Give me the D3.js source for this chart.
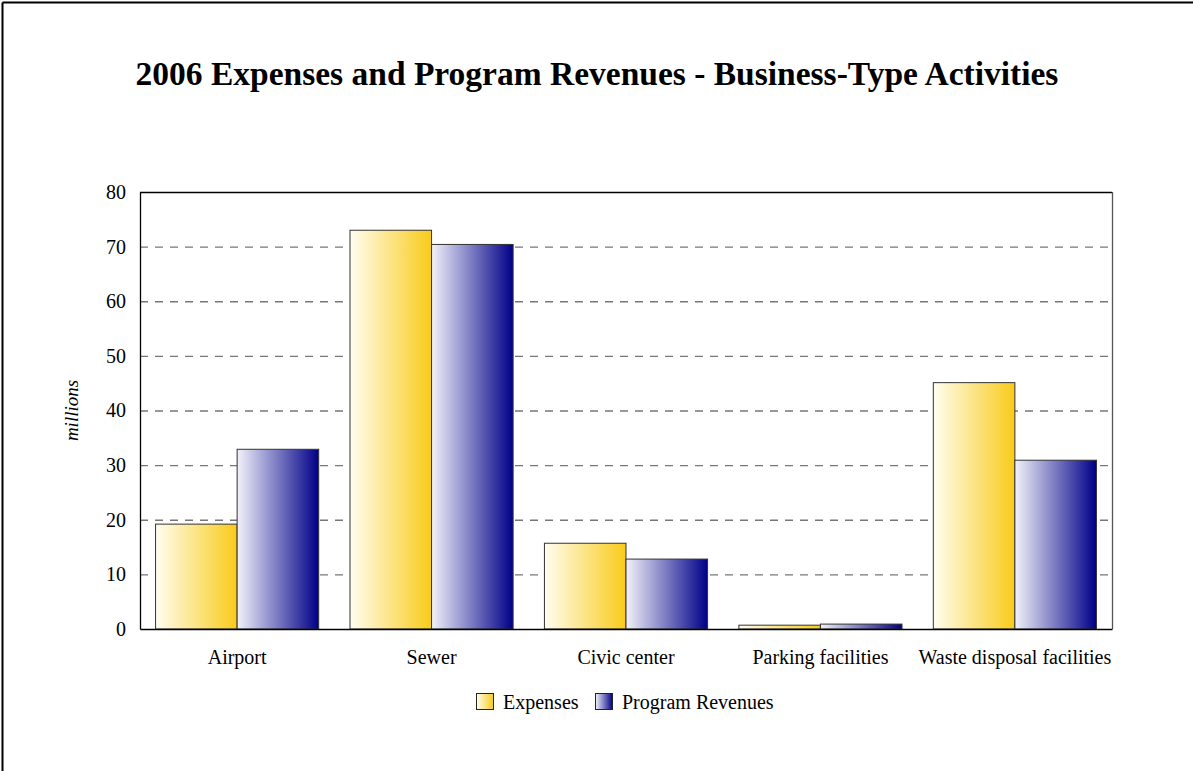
<!DOCTYPE html>
<html>
<head>
<meta charset="utf-8">
<script src="https://cdn.jsdelivr.net/npm/d3@7"></script>
<style>
  html, body { margin: 0; background: #fff; overflow: hidden; }
  svg { display: block; }
  text { font-family: "Liberation Serif", "Times New Roman", serif; fill: #000; }
</style>
</head>
<body>
<script>
// chart data
var categories = ["Airport", "Sewer", "Civic center", "Parking facilities", "Waste disposal facilities"];
var seriesNames = ["Expenses", "Program Revenues"];
var expenses = [19.2, 73.0, 15.7, 0.7, 45.1];
var revenues = [32.9, 70.4, 12.8, 0.9, 30.9];
var yTicks = [0, 10, 20, 30, 40, 50, 60, 70, 80];

var width = 1193, height = 771;
var margin = {top: 192, right: 81, bottom: 142, left: 140};
var w = width - margin.left - margin.right,
    h = height - margin.top - margin.bottom;

var svg = d3.select("body").append("svg").attr("width", width).attr("height", height);

// page frame: only the left and top edges show in the picture
svg.append("line").attr("x1", 2.5).attr("x2", width).attr("y1", 2.5).attr("y2", 2.5)
    .attr("stroke", "#000").attr("stroke-width", 2);
svg.append("line").attr("x1", 2.5).attr("x2", 2.5).attr("y1", 2.5).attr("y2", height)
    .attr("stroke", "#000").attr("stroke-width", 2);

var defs = svg.append("defs");
var grads = [
  {id: "gExp", from: "#fffdf0", to: "#f9cb1a"},
  {id: "gRev", from: "#f2f2fa", to: "#000088"}
];
grads.forEach(function(gd) {
  var lg = defs.append("linearGradient").attr("id", gd.id)
      .attr("x1", "0%").attr("x2", "100%").attr("y1", "0%").attr("y2", "0%");
  lg.append("stop").attr("offset", "0%").attr("stop-color", gd.from);
  lg.append("stop").attr("offset", "100%").attr("stop-color", gd.to);
});

svg.append("text")
    .attr("x", 597).attr("y", 85)
    .attr("text-anchor", "middle")
    .attr("font-size", 33.5).attr("font-weight", "bold")
    .text("2006 Expenses and Program Revenues - Business-Type Activities");

var g = svg.append("g").attr("transform", "translate(" + margin.left + "," + margin.top + ")");

var x0 = d3.scaleBand().domain(categories).range([0, w]).paddingInner(0.161).paddingOuter(0.08);
var x1 = d3.scaleBand().domain(seriesNames).range([0, x0.bandwidth()]);
var y = d3.scaleLinear().domain([0, 80]).range([h, 0]);

// dashed gridlines
g.selectAll(".grid").data(yTicks.filter(function(d) { return d > 0 && d < 80; }))
  .enter().append("line")
    .attr("x1", 0).attr("x2", w)
    .attr("y1", function(d) { return y(d) + 0.5; })
    .attr("y2", function(d) { return y(d) + 0.5; })
    .attr("stroke", "#777").attr("stroke-width", 1.3)
    .attr("stroke-dasharray", "8,7");

// top and right frame
g.append("line").attr("x1", 0).attr("x2", w).attr("y1", 0.5).attr("y2", 0.5)
    .attr("stroke", "#000").attr("stroke-width", 1.3);
g.append("line").attr("x1", w + 0.5).attr("x2", w + 0.5).attr("y1", 0).attr("y2", h)
    .attr("stroke", "#555").attr("stroke-width", 1.3);

var rows = categories.map(function(c, i) {
  return {cat: c, vals: [{s: seriesNames[0], v: expenses[i], fill: "url(#gExp)"},
                          {s: seriesNames[1], v: revenues[i], fill: "url(#gRev)"}]};
});

var groups = g.selectAll(".grp").data(rows).enter().append("g")
    .attr("transform", function(d) { return "translate(" + x0(d.cat) + ",0)"; });

groups.selectAll("rect").data(function(d) { return d.vals; }).enter().append("rect")
    .attr("x", function(d) { return x1(d.s); })
    .attr("y", function(d) { return y(d.v); })
    .attr("width", x1.bandwidth())
    .attr("height", function(d) { return h - y(d.v); })
    .attr("fill", function(d) { return d.fill; })
    .attr("stroke", "#333").attr("stroke-width", 1);

// axes
var yAxis = g.append("g")
    .call(d3.axisLeft(y).tickValues(yTicks).tickSize(0).tickPadding(14));
yAxis.select(".domain").attr("stroke", "#000").attr("stroke-width", 1.3);
yAxis.selectAll("text").attr("font-size", 20).style("font-family", "Liberation Serif, serif");

var xAxis = g.append("g").attr("transform", "translate(0," + h + ")")
    .call(d3.axisBottom(x0).tickSize(0).tickPadding(21));
xAxis.select(".domain").attr("stroke", "#000").attr("stroke-width", 1.5);
xAxis.selectAll("text").attr("font-size", 20).style("font-family", "Liberation Serif, serif");

svg.append("text")
    .attr("transform", "translate(78," + (margin.top + h / 2) + ") rotate(-90)")
    .attr("text-anchor", "middle")
    .attr("font-size", 19).attr("font-style", "italic")
    .text("millions");

// legend
var legend = svg.append("g").attr("transform", "translate(476,693)");
var legItems = [{name: seriesNames[0], fill: "url(#gExp)", x: 0},
                {name: seriesNames[1], fill: "url(#gRev)", x: 119}];
legItems.forEach(function(it) {
  legend.append("rect").attr("x", it.x + 0.5).attr("y", 0.5)
      .attr("width", 17).attr("height", 16)
      .attr("fill", it.fill).attr("stroke", "#222").attr("stroke-width", 1);
  legend.append("text").attr("x", it.x + 27).attr("y", 16)
      .attr("font-size", 20).text(it.name);
});
</script>
</body>
</html>
